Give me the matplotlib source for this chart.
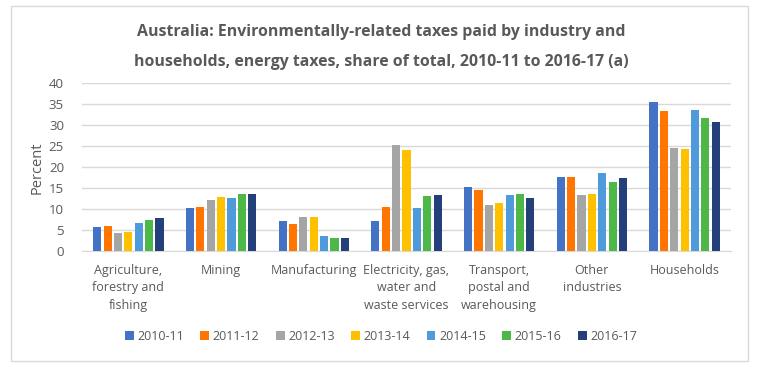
import numpy as np
import matplotlib
matplotlib.use('Agg')
import matplotlib.pyplot as plt
from matplotlib.patches import Rectangle

plt.rcParams['font.family'] = ['Open Sans', 'DejaVu Sans']

# data
categories = ["Agriculture,\nforestry and\nfishing", "Mining", "Manufacturing",
              "Electricity, gas,\nwater and\nwaste services", "Transport,\npostal and\nwarehousing",
              "Other\nindustries", "Households"]
years = ["2010-11", "2011-12", "2012-13", "2013-14", "2014-15", "2015-16", "2016-17"]
v_2010_11 = [5.9, 10.4, 7.3, 7.3, 15.4, 17.8, 35.6]
v_2011_12 = [6.1, 10.6, 6.6, 10.6, 14.7, 17.8, 33.5]
v_2012_13 = [4.4, 12.3, 8.2, 25.4, 11.1, 13.5, 24.7]
v_2013_14 = [4.7, 13.0, 8.2, 24.2, 11.6, 13.7, 24.4]
v_2014_15 = [6.8, 12.8, 3.7, 10.4, 13.5, 18.7, 33.7]
v_2015_16 = [7.5, 13.7, 3.2, 13.2, 13.7, 16.6, 31.8]
v_2016_17 = [8.0, 13.7, 3.2, 13.5, 12.8, 17.5, 30.9]
series = [v_2010_11, v_2011_12, v_2012_13, v_2013_14, v_2014_15, v_2015_16, v_2016_17]
colors = ["#4472C4", "#FF7500", "#A5A5A5", "#FFC000", "#4E9ADB", "#4DB848", "#243F7A"]

txt = "#595959"
fig = plt.figure(figsize=(7.62, 3.66), dpi=100)
fig.patches.append(Rectangle((11 / 762, 1 - 361 / 366), 737 / 762, 355 / 366,
                             transform=fig.transFigure, fill=False, edgecolor="#D9D9D9", lw=1))
ax = fig.add_axes([82 / 762, 1 - 251.3 / 366, 649 / 762, 168 / 366])

x = np.arange(len(categories))
step = 0.112
width = 0.088
for i, (vals, yr) in enumerate(zip(series, years)):
    ax.bar(x + (i - 3) * step, vals, width, color=colors[i], label=yr, zorder=3)

ax.set_xlim(-0.5, len(categories) - 0.5)
ax.set_ylim(0, 40)
ax.set_yticks(range(0, 41, 5))
ax.yaxis.grid(True, color="#D9D9D9", lw=1)
ax.set_axisbelow(True)
for s in ["top", "right", "left"]:
    ax.spines[s].set_visible(False)
ax.spines["bottom"].set_color("#D9D9D9")
ax.tick_params(axis="both", length=0, colors=txt, labelsize=9.5)
ax.tick_params(axis="y", pad=13)
ax.set_xticks(x)
ax.set_xticklabels(categories, fontsize=9, color=txt, linespacing=1.45)
ax.tick_params(axis="x", pad=9)
ax.set_ylabel("Percent", color=txt, fontsize=10.5, labelpad=3)

fig.text(0.5, 1 - 32 / 366, "Australia: Environmentally-related taxes paid by industry and",
         ha="center", va="center", fontsize=11.4, fontweight="bold", color=txt)
fig.text(0.5, 1 - 62 / 366, "households, energy taxes, share of total, 2010-11 to 2016-17 (a)",
         ha="center", va="center", fontsize=11.4, fontweight="bold", color=txt)

fig.legend(loc="center", bbox_to_anchor=(0.5, 1 - 336 / 366), ncol=7, frameon=False,
           fontsize=9, labelcolor=txt, handlelength=0.7, handleheight=0.7,
           handletextpad=0.3, columnspacing=1.3)

fig.savefig("out.png", dpi=100)
